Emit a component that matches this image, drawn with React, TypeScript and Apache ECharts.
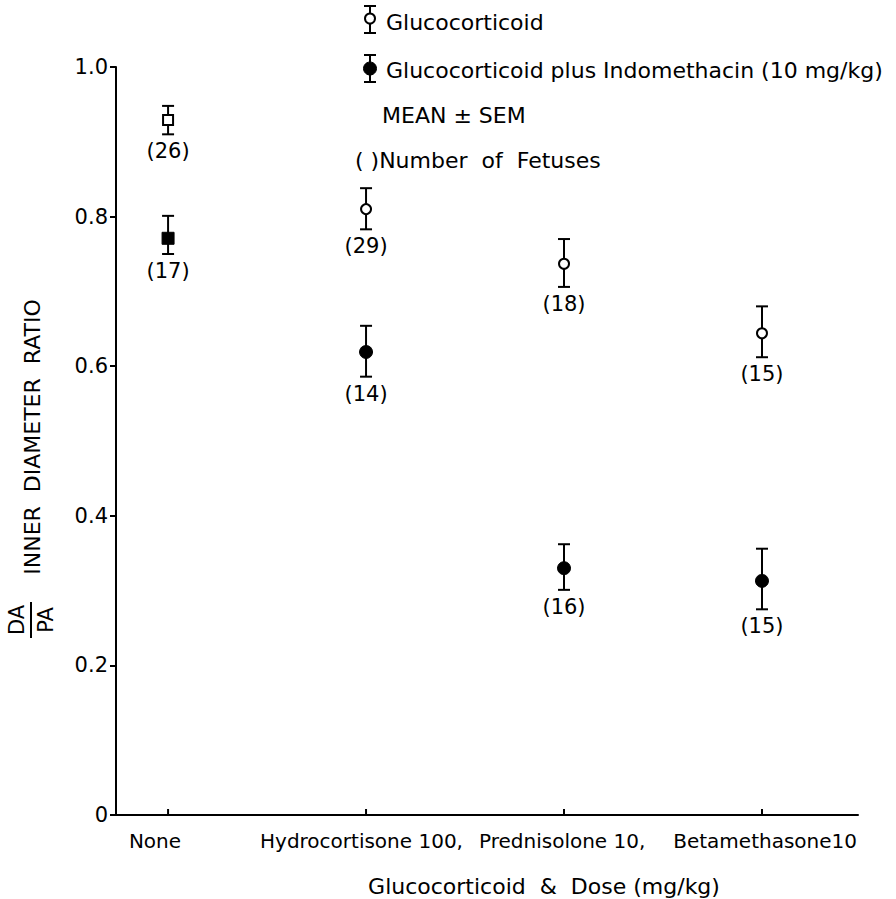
import React, { useEffect, useRef } from 'react';
import * as echarts from 'echarts';

// ---------- data ----------
const categories = ['None', 'Hydrocortisone 100,', 'Prednisolone 10,', 'Betamethasone10'];
const categoryX = [0, 1, 2, 3];
const markerShapes = ['square', 'circle', 'circle', 'circle'];

const glucoMean = [0.929, 0.81, 0.737, 0.644];
const glucoLow = [0.91, 0.783, 0.706, 0.612];
const glucoHigh = [0.948, 0.838, 0.77, 0.68];
const glucoN = [26, 29, 18, 15];

const indoMean = [0.771, 0.619, 0.33, 0.313];
const indoLow = [0.75, 0.586, 0.301, 0.275];
const indoHigh = [0.801, 0.654, 0.362, 0.356];
const indoN = [17, 14, 16, 15];

const yMin = 0;
const yMax = 1.0;
const yStep = 0.2;

const legendLabels = [
  'Glucocorticoid',
  'Glucocorticoid plus Indomethacin (10 mg/kg)',
  'MEAN ± SEM',
  '( )Number  of  Fetuses',
];
const xTitle = 'Glucocorticoid  &  Dose (mg/kg)';
const yTitle = 'INNER  DIAMETER  RATIO';

const FONT = '"DejaVu Sans", sans-serif';

function buildData(mean: number[], low: number[], high: number[], n: number[]) {
  return categoryX.map((x, i) => [x, mean[i], low[i], high[i], n[i]]);
}

function makeRenderItem(filled: boolean) {
  return (params: any, api: any) => {
    const idx = params.dataIndex;
    const x = api.value(0);
    const c = api.coord([x, api.value(1)]);
    const lo = api.coord([x, api.value(2)]);
    const hi = api.coord([x, api.value(3)]);
    const base = api.coord([x, 0]);
    const n = api.value(4);
    const shape = markerShapes[idx];
    const lw = 2;
    const cap = 6;
    const stroke = { stroke: '#000', lineWidth: lw };
    const children: any[] = [
      { type: 'line', shape: { x1: c[0], y1: hi[1], x2: c[0], y2: lo[1] }, style: stroke },
      { type: 'line', shape: { x1: c[0] - cap, y1: hi[1], x2: c[0] + cap, y2: hi[1] }, style: stroke },
      { type: 'line', shape: { x1: c[0] - cap, y1: lo[1], x2: c[0] + cap, y2: lo[1] }, style: stroke },
    ];
    if (shape === 'square') {
      const s = filled ? 12 : 10;
      children.push({
        type: 'rect',
        shape: { x: c[0] - s / 2, y: c[1] - s / 2, width: s, height: s },
        style: { fill: filled ? '#000' : '#fff', stroke: '#000', lineWidth: filled ? 1 : 2 },
      });
    } else {
      children.push({
        type: 'circle',
        shape: { cx: c[0], cy: c[1], r: filled ? 6.5 : 5 },
        style: { fill: filled ? '#000' : '#fff', stroke: '#000', lineWidth: filled ? 1 : 2 },
      });
    }
    children.push({
      type: 'text',
      style: {
        text: `(${n})`,
        x: c[0],
        y: lo[1] + 17,
        align: 'center',
        verticalAlign: 'middle',
        textAlign: 'center',
        textVerticalAlign: 'middle',
        fontSize: 21,
        fontFamily: FONT,
        fill: '#000',
      },
    });
    if (filled) {
      children.push({
        type: 'line',
        shape: { x1: base[0], y1: base[1], x2: base[0], y2: base[1] - 6 },
        style: stroke,
      });
    }
    return { type: 'group', children };
  };
}

function legendIcon(cx: number, yTop: number, yBot: number, filled: boolean) {
  const stroke = { stroke: '#000', lineWidth: 2 };
  const cy = (yTop + yBot) / 2;
  return {
    type: 'group',
    children: [
      { type: 'line', shape: { x1: cx, y1: yTop, x2: cx, y2: yBot }, style: stroke },
      { type: 'line', shape: { x1: cx - 6, y1: yTop, x2: cx + 6, y2: yTop }, style: stroke },
      { type: 'line', shape: { x1: cx - 6, y1: yBot, x2: cx + 6, y2: yBot }, style: stroke },
      {
        type: 'circle',
        shape: { cx, cy: filled ? cy : cy - 1, r: filled ? 6.5 : 5 },
        style: { fill: filled ? '#000' : '#fff', stroke: '#000', lineWidth: filled ? 1 : 2 },
      },
    ],
  };
}

function txt(text: string, x: number, y: number, align: string, size = 20, rotation = 0) {
  return {
    type: 'text',
    x,
    y,
    rotation,
    style: {
      text,
      x: 0,
      y: 0,
      align,
      verticalAlign: 'middle',
      textAlign: align,
      textVerticalAlign: 'middle',
      fontSize: size,
      fontFamily: FONT,
      fill: '#000',
    },
  };
}

export default function App() {
  const ref = useRef<HTMLDivElement>(null);

  useEffect(() => {
    if (!ref.current) return;
    const chart = echarts.init(ref.current, undefined, { renderer: 'svg' });
    const option: any = {
      animation: false,
      backgroundColor: '#fff',
      grid: { left: 116, right: 38, top: 67, bottom: 84 },
      xAxis: {
        type: 'value',
        min: -0.263,
        max: 3.485,
        axisLine: { show: true, onZero: false, lineStyle: { color: '#000', width: 2 } },
        axisTick: { show: false },
        axisLabel: { show: false },
        splitLine: { show: false },
      },
      yAxis: {
        type: 'value',
        min: yMin,
        max: yMax,
        interval: yStep,
        axisLine: { show: true, onZero: false, lineStyle: { color: '#000', width: 2 } },
        axisTick: { show: true, length: 6, lineStyle: { color: '#000', width: 2 } },
        axisLabel: {
          color: '#000',
          fontSize: 21,
          fontFamily: FONT,
          margin: 8,
          formatter: (v: number) => (v === 0 ? '0' : v.toFixed(1)),
        },
        splitLine: { show: false },
      },
      series: [
        {
          name: 'Glucocorticoid',
          type: 'custom',
          renderItem: makeRenderItem(false),
          data: buildData(glucoMean, glucoLow, glucoHigh, glucoN),
          encode: { x: 0, y: [1, 2, 3] },
          z: 3,
        },
        {
          name: 'Glucocorticoid plus Indomethacin',
          type: 'custom',
          renderItem: makeRenderItem(true),
          data: buildData(indoMean, indoLow, indoHigh, indoN),
          encode: { x: 0, y: [1, 2, 3] },
          z: 3,
        },
      ],
      graphic: [
        legendIcon(370, 6, 33, false),
        legendIcon(370, 55, 82, true),
        txt(legendLabels[0], 386, 22, 'left', 22),
        txt(legendLabels[1], 386, 70, 'left', 22),
        txt(legendLabels[2], 382, 115, 'left', 22),
        txt(legendLabels[3], 355, 160, 'left', 22),
        // category labels
        txt(categories[0], 155, 841, 'center'),
        txt(categories[1], 260, 841, 'left'),
        txt(categories[2], 479, 841, 'left'),
        txt(categories[3], 857, 841, 'right'),
        // x title
        txt(xTitle, 544, 886, 'center', 22),
        // y title
        txt(yTitle, 32, 437, 'center', 22, Math.PI / 2),
        txt('DA', 17, 620, 'center', 21, Math.PI / 2),
        txt('PA', 46, 620, 'center', 21, Math.PI / 2),
        {
          type: 'line',
          shape: { x1: 31, y1: 602, x2: 31, y2: 638 },
          style: { stroke: '#000', lineWidth: 2 },
        },
      ],
    };
    chart.setOption(option);
    return () => chart.dispose();
  }, []);

  return (
    <div
      ref={ref}
      style={{ position: 'absolute', left: 0, top: 0, width: 896, height: 899, background: '#fff' }}
    />
  );
}
